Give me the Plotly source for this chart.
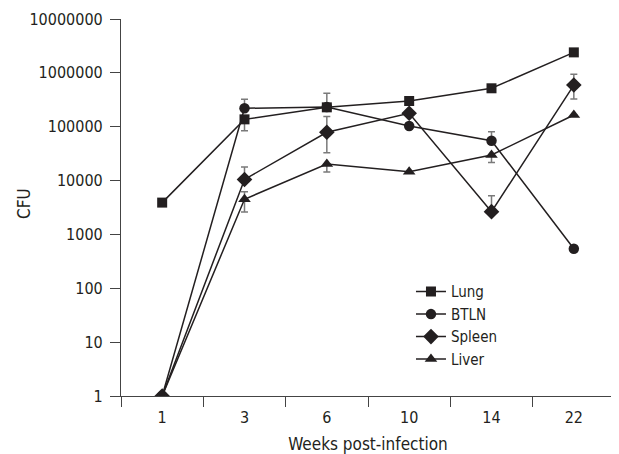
import plotly.graph_objects as go

weeks = ["1", "3", "6", "10", "14", "22"]

lung = [3900, 137000, 229000, 300000, 517000, 2400000]
lung_err_plus = [0, 0, 190000, 0, 0, 0]
lung_err_minus = [0, 53000, 0, 0, 0, 0]

btln = [1, 220000, 232000, 103000, 55000, 543]
btln_err_plus = [0, 103000, 0, 0, 26000, 0]
btln_err_minus = [0, 0, 0, 0, 0, 0]

spleen = [1, 10500, 78700, 178000, 2650, 594000]
spleen_err_plus = [0, 7300, 76000, 0, 2550, 346000]
spleen_err_minus = [0, 0, 46000, 0, 0, 268000]

liver = [1, 4500, 20300, 14600, 29800, 165000]
liver_err_plus = [0, 1700, 0, 0, 0, 0]
liver_err_minus = [0, 1900, 5800, 0, 8200, 0]

ytick_vals = [1, 10, 100, 1000, 10000, 100000, 1000000, 10000000]
ytick_text = ["1", "10", "100", "1000", "10000", "100000", "1000000", "10000000"]

FONT = "DejaVu Sans Condensed, Liberation Sans Narrow, Arial Narrow, sans-serif"
LINE = "#231f20"
ERR = "#7a7a7a"

series = [
    ("Lung", lung, lung_err_plus, lung_err_minus, "square", 10),
    ("BTLN", btln, btln_err_plus, btln_err_minus, "circle", 10.5),
    ("Spleen", spleen, spleen_err_plus, spleen_err_minus, "diamond", 12),
    ("Liver", liver, liver_err_plus, liver_err_minus, "triangle-up", 11),
]

fig = go.Figure()
for name, vals, ep, em, sym, sz in series:
    fig.add_trace(go.Scatter(
        x=weeks, y=vals, name=name, mode="lines+markers",
        line=dict(color=LINE, width=1.5),
        marker=dict(symbol=sym, size=sz, color=LINE),
        error_y=dict(type="data", symmetric=False, array=ep, arrayminus=em,
                     color=ERR, thickness=1.5, width=3.5),
    ))

fig.update_layout(
    width=611, height=446,
    margin=dict(l=113, r=4, t=11, b=58),
    paper_bgcolor="white", plot_bgcolor="white",
    font=dict(family=FONT, size=16, color="#231f20"),
    showlegend=True,
    legend=dict(x=0.587, y=0.32, xanchor="left", yanchor="top",
                bgcolor="rgba(0,0,0,0)", font=dict(size=15),
                tracegroupgap=0, itemwidth=30),
    xaxis=dict(
        type="category", range=[-0.5, 5.5], tickson="boundaries",
        ticks="outside", ticklen=10, tickcolor="#444", tickwidth=1.2,
        showline=True, linecolor="#444", linewidth=1.2,
        showgrid=False, zeroline=False, automargin=False,
        tickfont=dict(size=16), ticklabelstandoff=7,
        title=dict(text="Weeks post-infection", font=dict(size=17), standoff=19),
    ),
    yaxis=dict(
        type="log", range=[0, 7],
        tickmode="array", tickvals=ytick_vals, ticktext=ytick_text,
        ticks="outside", ticklen=10, tickcolor="#444", tickwidth=1.2,
        showline=True, linecolor="#444", linewidth=1.2,
        showgrid=False, zeroline=False, automargin=False,
        tickfont=dict(size=16), ticklabelstandoff=4,
    ),
    annotations=[dict(
        text="CFU", textangle=-90, showarrow=False,
        xref="paper", yref="paper", x=-0.196, y=0.51,
        xanchor="center", yanchor="middle", font=dict(size=17),
    )],
)

fig.write_html("out.html")
